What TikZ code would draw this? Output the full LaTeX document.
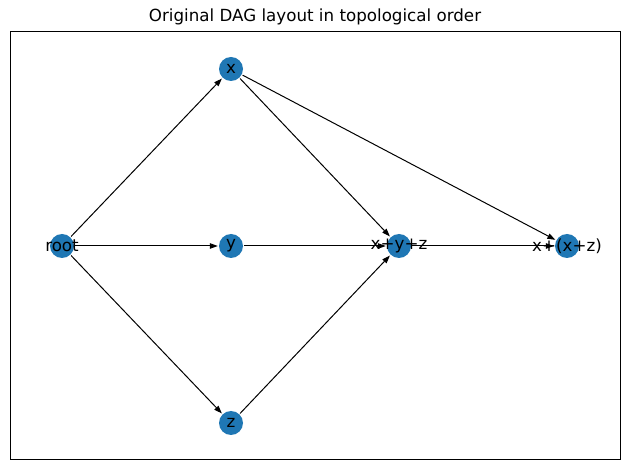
\documentclass[tikz,border=0pt]{standalone}
\usepackage{fontspec}
\setmainfont{DejaVu Sans}
\usetikzlibrary{arrows.meta}
\definecolor{mplblue}{HTML}{1F77B4}
\tikzset{
  vtx/.style={circle, fill=mplblue, minimum size=24pt, inner sep=0pt},
  lbl/.style={font=\fontsize{16.7}{18}\selectfont, inner sep=0pt},
  edge/.style={-{Triangle[length=8pt,width=5.5pt]}, line width=1pt, black, shorten >=1pt, shorten <=1pt}
}
\begin{document}
\begin{tikzpicture}[x=1pt,y=-1pt]
\useasboundingbox (0,0) rectangle (630,470);
\fill[white] (0,0) rectangle (630,470);
\draw[line width=1pt] (10,32) rectangle (620,460);
\node[font=\fontsize{16.7}{18}\selectfont] (title) at (315,17) {Original DAG layout in topological order};
% nodes
\node[vtx] (root) at (62,246) {};
\node[vtx] (x) at (231,69) {};
\node[vtx] (y) at (231,246) {};
\node[vtx] (z) at (231,423) {};
\node[vtx] (s) at (399,246) {};
\node[vtx] (t) at (567,246) {};
% edges
\draw[edge] (root) -- (x);
\draw[edge] (root) -- (y);
\draw[edge] (root) -- (z);
\draw[edge] (x) -- (s);
\draw[edge] (x) -- (t);
\draw[edge] (y) -- (s);
\draw[edge] (z) -- (s);
\draw[edge] (s) -- (t);
% labels
\node[lbl] (lroot) at (root) {root};
\node[lbl] (lx) at (x) {x};
\node[lbl] (ly) at (y) {y};
\node[lbl] (lz) at (z) {z};
\node[lbl] (ls) at (s) {x+y+z};
\node[lbl] (lt) at (t) {x+(x+z)};
\end{tikzpicture}
\end{document}
